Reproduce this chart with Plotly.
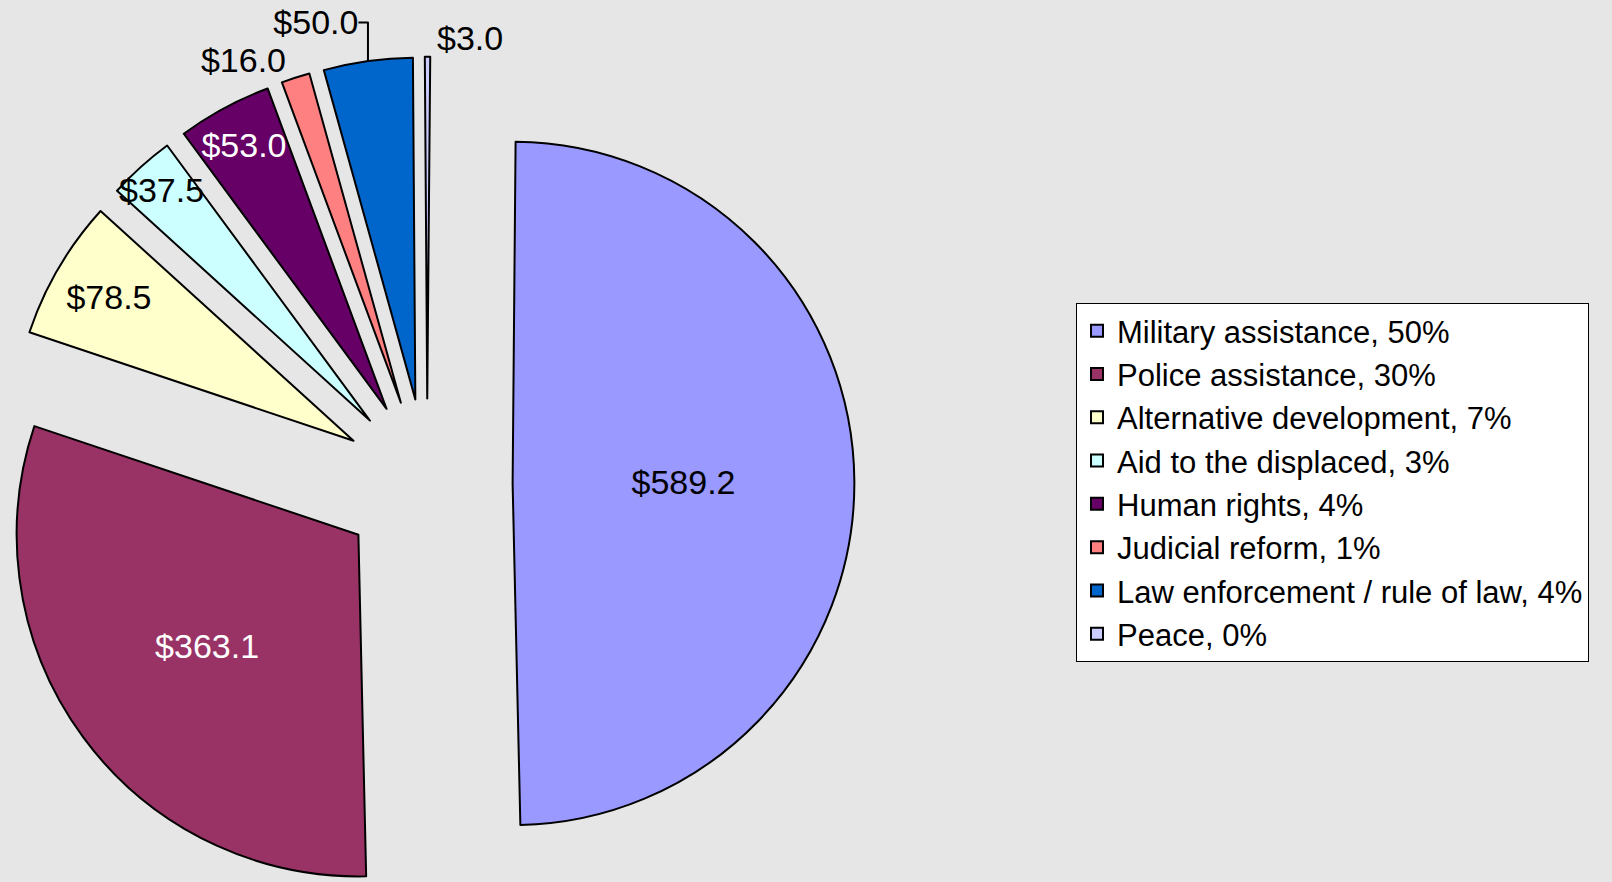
import plotly.graph_objects as go

categories = ["Military assistance", "Police assistance", "Alternative development",
              "Aid to the displaced", "Human rights", "Judicial reform",
              "Law enforcement / rule of law", "Peace"]
values = [589.2, 363.1, 78.5, 37.5, 53.0, 16.0, 50.0, 3.0]
legend_pcts = [50, 30, 7, 3, 4, 1, 4, 0]

colors = ["#9999FF", "#993366", "#FFFFCC", "#CCFFFF", "#660066", "#FF8080", "#0066CC", "#CCCCFF"]
text_colors = ["black", "white", "black", "black", "white", "black", "black", "black"]
text_positions = ["inside", "inside", "inside", "inside", "inside", "outside", "outside", "outside"]

labels = [f"{c}, {p}%" for c, p in zip(categories, legend_pcts)]
texts = [f"${v:.1f}" for v in values]

FONT = "Liberation Sans, Arial, sans-serif"
PAGE_W, PAGE_H = 1612, 882
FIG_H = 968  # taller paper so the pie centre sits where it does in the reference; clipped to the page

fig = go.Figure(go.Pie(
    labels=labels,
    values=values,
    text=texts,
    textinfo="text",
    textposition=text_positions,
    insidetextorientation="horizontal",
    textfont=dict(family=FONT, size=34, color=text_colors),
    outsidetextfont=dict(family=FONT, size=34, color="black"),
    marker=dict(colors=colors, line=dict(color="black", width=2)),
    pull=[0.25] * len(values),
    sort=False,
    direction="clockwise",
    rotation=0.5,
    domain=dict(x=[0.0, 0.53], y=[0.0, 1.0]),
    hoverinfo="label+value",
))

fig.update_layout(
    width=PAGE_W, height=FIG_H,
    margin=dict(l=0, r=0, t=0, b=0, autoexpand=False),
    paper_bgcolor="#E6E6E6",
    plot_bgcolor="#E6E6E6",
    font=dict(family=FONT, color="black"),
    uniformtext=dict(mode="show", minsize=34),
    showlegend=True,
    legend=dict(
        x=0.6675, y=(FIG_H - 303) / FIG_H, xanchor="left", yanchor="top",
        bgcolor="white", bordercolor="black", borderwidth=1,
        font=dict(size=31, family=FONT, color="black"),
        traceorder="normal",
    ),
)

post = (
    "document.documentElement.style.margin='0';"
    "document.body.style.margin='0';"
    "document.body.style.overflow='hidden';"
    "document.documentElement.style.overflow='hidden';"
    "var gd=document.getElementById('{plot_id}');"
    "gd.parentElement.style.height='%dpx';"
    "gd.parentElement.style.overflow='hidden';" % PAGE_H
)

fig.write_html("out.html", post_script=post, config={"displayModeBar": False})
